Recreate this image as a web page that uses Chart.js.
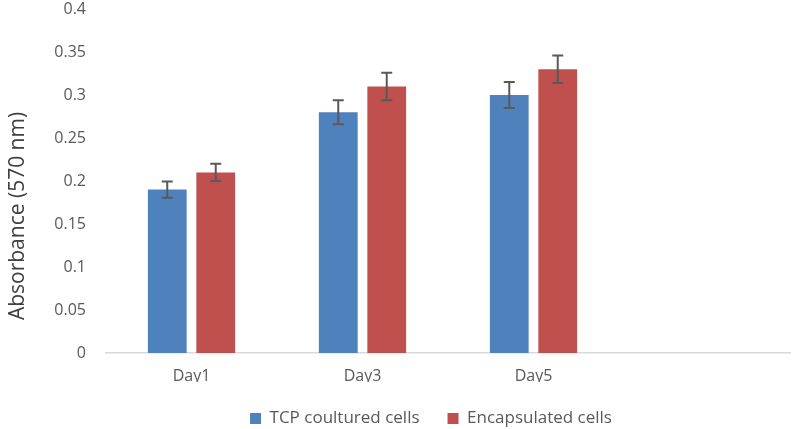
<!DOCTYPE html>
<html>
<head>
<meta charset="utf-8">
<script src="https://cdn.jsdelivr.net/npm/chart.js@4"></script>
<style>
  html, body { margin: 0; padding: 0; background: #fff; }
  #wrap { width: 792px; height: 429px; }
</style>
</head>
<body>
<div id="wrap"><canvas id="absChart" width="792" height="429"></canvas></div>
<script>
// data
const days = ['Day1', 'Day3', 'Day5', ''];
const tcpValues = [0.19, 0.28, 0.30, null];
const tcpErrors = [0.0095, 0.014, 0.015, null];
const encValues = [0.21, 0.31, 0.33, null];
const encErrors = [0.010, 0.016, 0.016, null];
const yTitle = 'Absorbance (570 nm)';

// error bars drawn on top of each bar
const errorBarPlugin = {
    id: 'errorBars',
    afterDatasetsDraw(chart) {
        const ctx = chart.ctx;
        const yScale = chart.scales.y;
        chart.data.datasets.forEach((ds, i) => {
            const meta = chart.getDatasetMeta(i);
            meta.data.forEach((bar, j) => {
                const v = ds.data[j];
                const e = ds.errors[j];
                if (v == null || e == null) return;
                const top = yScale.getPixelForValue(v + e);
                const bottom = yScale.getPixelForValue(v - e);
                const x = bar.x;
                ctx.save();
                ctx.strokeStyle = '#595959';
                ctx.lineWidth = 2;
                ctx.beginPath();
                ctx.moveTo(x, top);
                ctx.lineTo(x, bottom);
                ctx.moveTo(x - 5.5, top);
                ctx.lineTo(x + 5.5, top);
                ctx.moveTo(x - 5.5, bottom);
                ctx.lineTo(x + 5.5, bottom);
                ctx.stroke();
                ctx.restore();
            });
        });
    }
};

// y title sits a bit below the middle of the axis, like Excel does it
const yTitlePlugin = {
    id: 'yTitle',
    afterDraw(chart) {
        const ctx = chart.ctx;
        ctx.save();
        ctx.translate(18, 216);
        ctx.rotate(-Math.PI / 2);
        ctx.font = '21px "Open Sans"';
        ctx.fillStyle = '#404040';
        ctx.textAlign = 'center';
        ctx.textBaseline = 'middle';
        ctx.fillText(yTitle, 0, 0);
        ctx.restore();
    }
};

// excel centres the legend a bit right of the canvas middle
const legendShift = {
    id: 'legendShift',
    afterLayout(chart) {
        if (!chart.legend) return;
        chart.legend.left += 36;
        chart.legend.right += 36;
    }
};

const tickFont = { family: 'Open Sans', size: 16 };

new Chart(document.getElementById('absChart').getContext('2d'), {
    type: 'bar',
    data: {
        labels: days,
        datasets: [{
            label: 'TCP coultured cells',
            data: tcpValues,
            errors: tcpErrors,
            backgroundColor: '#4F81BD',
            barPercentage: 0.8,
            categoryPercentage: 0.567
        }, {
            label: 'Encapsulated cells',
            data: encValues,
            errors: encErrors,
            backgroundColor: '#C0504D',
            barPercentage: 0.8,
            categoryPercentage: 0.567
        }]
    },
    options: {
        responsive: false,
        animation: false,
        layout: { padding: { left: 0, right: 2, top: 0, bottom: -8 } },
        plugins: {
            legend: {
                position: 'bottom',
                labels: {
                    font: { family: 'Open Sans', size: 17 },
                    color: '#595959',
                    boxWidth: 11,
                    boxHeight: 11,
                    padding: 28
                }
            },
            tooltip: { enabled: false }
        },
        scales: {
            x: {
                grid: { display: false },
                border: { color: '#d9d9d9', width: 1.5 },
                ticks: { font: tickFont, color: '#595959', padding: 6 },
                afterFit(scale) { scale.height = 29; }
            },
            y: {
                min: 0,
                max: 0.4,
                grid: { display: false, drawTicks: false },
                border: { display: false },
                ticks: {
                    stepSize: 0.05,
                    font: tickFont,
                    color: '#595959',
                    padding: 20,
                    callback: v => +v.toFixed(2)
                },
                afterFit(scale) {
                    scale.width = 106;
                    scale.paddingTop = 9;
                    scale.paddingBottom = 0;
                }
            }
        }
    },
    plugins: [errorBarPlugin, yTitlePlugin, legendShift]
});
</script>
</body>
</html>
